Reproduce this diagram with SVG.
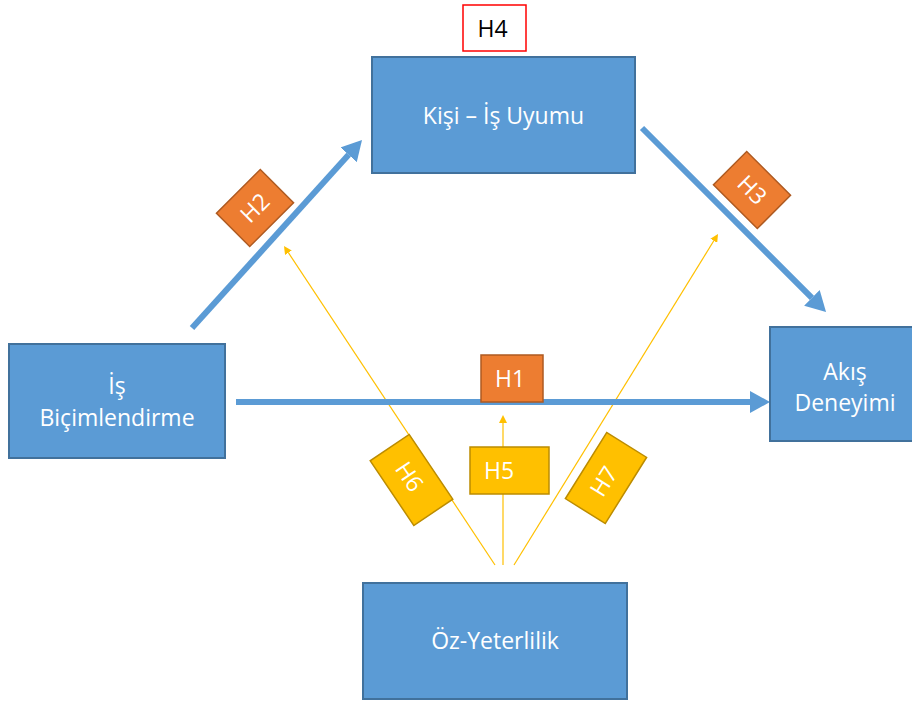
<svg xmlns="http://www.w3.org/2000/svg" width="912" height="705" viewBox="0 0 912 705">
  <style>
    .node { fill: #5B9BD5; stroke: #41719C; stroke-width: 2; }
    .node-text { font-family: "Open Sans", "Noto Sans", sans-serif; font-size: 23px; fill: #FFFFFF; text-anchor: middle; }
    .main { stroke: #5B9BD5; stroke-width: 6; fill: none; }
    .mod { stroke: #FFC000; stroke-width: 1.2; fill: none; }
    .tag-o { fill: #ED7D31; stroke: #AE5A21; stroke-width: 1.5; }
    .tag-y { fill: #FFC000; stroke: #BC8C00; stroke-width: 1.5; }
    .tag-text { font-family: "Open Sans", "Noto Sans", sans-serif; font-size: 23px; fill: #FFFFFF; text-anchor: middle; }
  </style>
  <defs>
    <marker id="head-blue" viewBox="0 0 20 22" refX="0" refY="11" markerWidth="20" markerHeight="22" markerUnits="userSpaceOnUse" orient="auto">
      <path d="M0,0 L20,11 L0,22 z" fill="#5B9BD5"/>
    </marker>
    <marker id="head-gold" viewBox="0 0 8 8" refX="0" refY="4" markerWidth="8" markerHeight="8" markerUnits="userSpaceOnUse" orient="auto">
      <path d="M0,0 L8,4 L0,8 z" fill="#FFC000"/>
    </marker>
  </defs>

  <rect width="912" height="705" fill="#FFFFFF"/>

  <!-- connectors -->
  <g id="connectors">
    <line class="mod" x1="495" y1="565" x2="288.4" y2="252.7" marker-end="url(#head-gold)"/>
    <line class="mod" x1="503" y1="565" x2="503" y2="423" marker-end="url(#head-gold)"/>
    <line class="mod" x1="514" y1="565" x2="713.8" y2="240.8" marker-end="url(#head-gold)"/>
    <line class="main" x1="236" y1="402" x2="750" y2="402" marker-end="url(#head-blue)"/>
    <line class="main" x1="192" y1="328" x2="348.6" y2="154.8" marker-end="url(#head-blue)"/>
    <line class="main" x1="642" y1="128" x2="811.9" y2="297.9" marker-end="url(#head-blue)"/>
  </g>

  <!-- nodes -->
  <g id="kisi-is-uyumu">
    <rect class="node" x="372" y="57" width="263" height="116"/>
    <text class="node-text" x="503.5" y="124">Kişi – İş Uyumu</text>
  </g>
  <g id="is-bicimlendirme">
    <rect class="node" x="9" y="344" width="216" height="114"/>
    <text class="node-text" x="117" y="394">İş</text>
    <text class="node-text" x="117" y="426">Biçimlendirme</text>
  </g>
  <g id="akis-deneyimi">
    <rect class="node" x="770" y="327" width="152" height="114"/>
    <text class="node-text" x="845" y="380">Akış</text>
    <text class="node-text" x="845" y="411">Deneyimi</text>
  </g>
  <g id="oz-yeterlilik">
    <rect class="node" x="363" y="583" width="264" height="116"/>
    <text class="node-text" x="495" y="649">Öz-Yeterlilik</text>
  </g>

  <!-- hypothesis labels -->
  <g id="h4">
    <rect x="463" y="5" width="63" height="46" fill="#FFFFFF" stroke="#FF0000" stroke-width="1.5"/>
    <text class="tag-text" x="492.5" y="37" style="fill:#000000">H4</text>
  </g>
  <g id="h1">
    <rect class="tag-o" x="481" y="355" width="62" height="47"/>
    <text class="tag-text" x="510" y="387">H1</text>
  </g>
  <g id="h2" transform="translate(255 208) rotate(-45)">
    <rect class="tag-o" x="-31" y="-23.5" width="62" height="47"/>
    <text class="tag-text" x="0" y="8">H2</text>
  </g>
  <g id="h3" transform="translate(752 190) rotate(45)">
    <rect class="tag-o" x="-31" y="-23.5" width="62" height="47"/>
    <text class="tag-text" x="0" y="8">H3</text>
  </g>
  <g id="h5">
    <rect class="tag-y" x="470" y="447" width="79" height="47"/>
    <text class="tag-text" x="499" y="479">H5</text>
  </g>
  <g id="h6" transform="translate(411.5 480) rotate(56)">
    <rect class="tag-y" x="-39" y="-23.5" width="78" height="47"/>
    <text class="tag-text" x="-4" y="8">H6</text>
  </g>
  <g id="h7" transform="translate(606 478) rotate(-58)">
    <rect class="tag-y" x="-39" y="-23.5" width="78" height="47"/>
    <text class="tag-text" x="-4" y="8">H7</text>
  </g>
</svg>
